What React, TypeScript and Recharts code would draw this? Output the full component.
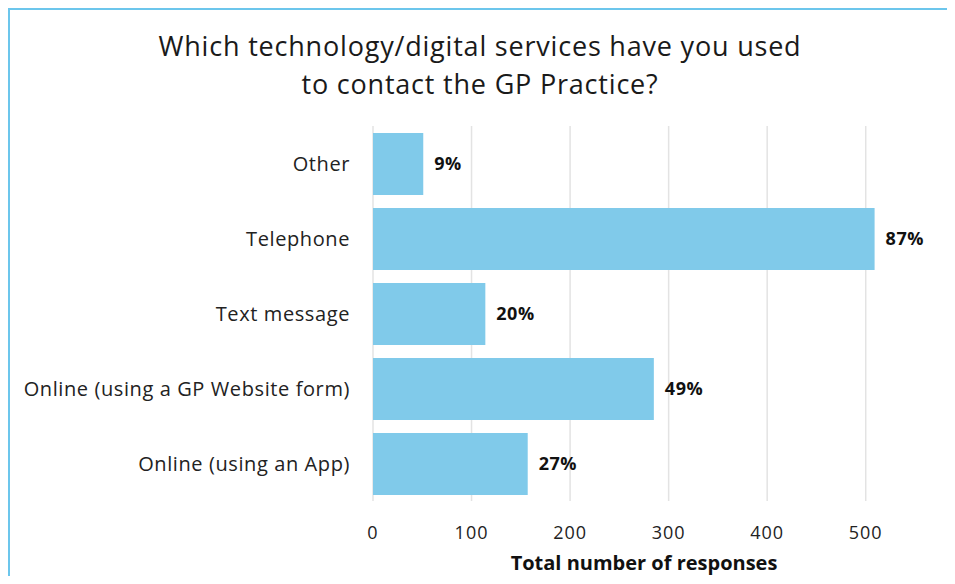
import React from "react";
import { BarChart, Bar, XAxis, YAxis, CartesianGrid, LabelList, Label } from "recharts";

const categories = [
  "Other",
  "Telephone",
  "Text message",
  "Online (using a GP Website form)",
  "Online (using an App)",
];
const responses = [51, 509, 114, 285, 157];
const percentLabels = ["9%", "87%", "20%", "49%", "27%"];
const xTicks = [0, 100, 200, 300, 400, 500];

const data = categories.map((c, i) => ({ name: c, value: responses[i], pct: percentLabels[i] }));

const FONT = "'Open Sans', 'Noto Sans', sans-serif";

export default function App() {
  return (
    <div style={{ position: "relative", width: 939, height: 568 }}>
      <div
        style={{
          position: "absolute",
          left: 0,
          top: 0,
          width: 944,
          height: 576,
          boxSizing: "border-box",
          borderTop: "2px solid #6cc6ec",
          borderLeft: "2px solid #6cc6ec",
          borderRight: "2px solid #6cc6ec",
        }}
      />
      <div
        style={{
          position: "absolute",
          left: 0,
          top: 19,
          width: 944,
          textAlign: "center",
          fontFamily: FONT,
          fontSize: 27,
          letterSpacing: 0.8,
          lineHeight: "38px",
          color: "#1a1a1a",
        }}
      >
        Which technology/digital services have you used
        <br />
        to contact the GP Practice?
      </div>
      <div style={{ position: "absolute", left: -8, top: -8 }}>
        <BarChart
          width={955}
          height={584}
          data={data}
          layout="vertical"
          margin={{ top: 126, right: 40, bottom: 8, left: 0 }}
          barSize={62}
        >
          <CartesianGrid horizontal={false} stroke="#e3e3e3" strokeWidth={1.5} syncWithTicks />
          <XAxis
            type="number"
            domain={[0, 550]}
            ticks={xTicks}
            axisLine={false}
            tickLine={false}
            tickMargin={19}
            height={75}
            tick={{ fontSize: 18, fill: "#222", fontFamily: FONT, letterSpacing: 1 }}
          >
            <Label
              value="Total  number of responses"
              position="insideBottom"
              offset={6}
              style={{ fontSize: 20, fontWeight: 700, fill: "#111", fontFamily: FONT, whiteSpace: "pre" }}
            />
          </XAxis>
          <YAxis
            type="category"
            dataKey="name"
            width={373}
            axisLine={false}
            tickLine={false}
            tickMargin={17}
            tick={{ fontSize: 20, fill: "#222", fontFamily: FONT, letterSpacing: 0.6 }}
          />
          <Bar dataKey="value" fill="#80caea" isAnimationActive={false}>
            <LabelList
              dataKey="pct"
              position="right"
              offset={11}
              style={{ fontSize: 18, fontWeight: 700, fill: "#111", fontFamily: FONT, letterSpacing: 0.5 }}
            />
          </Bar>
        </BarChart>
      </div>
    </div>
  );
}
